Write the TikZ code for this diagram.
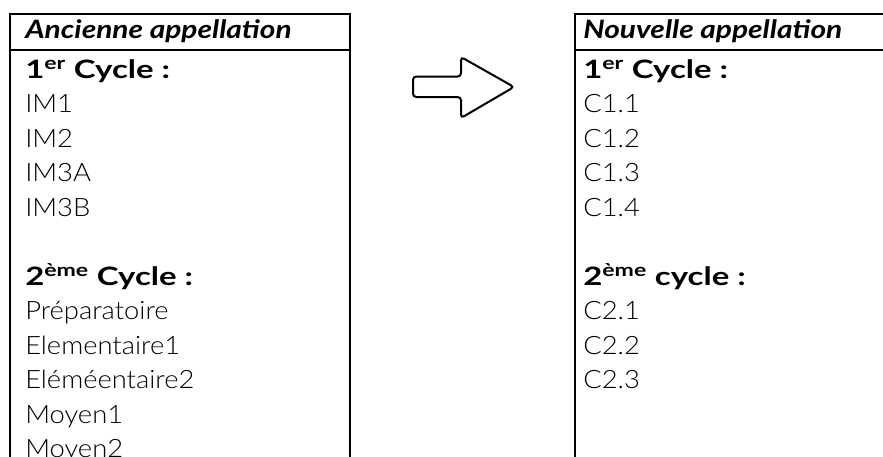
\documentclass[tikz,border=0pt]{standalone}
\usepackage{fontspec}
\setmainfont{Lato Light}
\newfontfamily\bodyfont{Lato Light}[FakeStretch=1.08]
\newfontfamily\headfont{Lato Bold Italic}[FakeStretch=1.18]
\newfontfamily\cyclefont{Lato Bold}[FakeStretch=1.3]
\usetikzlibrary{positioning}

\begin{document}
\begin{tikzpicture}[x=0.75pt,y=-0.75pt,node distance=25.875pt,on grid,
		entry/.style={inner sep=0pt,anchor=base west,font=\bodyfont\fontsize{19}{22}\selectfont},
		heading/.style={entry,font=\headfont\fontsize{19}{22}\selectfont},
		cyclehead/.style={entry,font=\cyclefont\fontsize{19}{22}\selectfont},
		under/.style={below=of #1.base west,anchor=base west},
		frame/.style={line width=1.5pt}]
		\useasboundingbox (0,0) rectangle (883,457);
		
		% old names
		\draw[frame] (10,470) -- (10,14) -- (350,14) -- (350,470);
		\draw[frame] (10,50) -- (350,50);
		\node[heading]   (oldhead) at (25,38)       {Ancienne appellation};
		\node[cyclehead] (oldc1)   at (25,78)       {1\textsuperscript{er} Cycle :};
		\node[entry]     (im1)     [under=oldc1]    {IM1};
		\node[entry]     (im2)     [under=im1]      {IM2};
		\node[entry]     (im3a)    [under=im2]      {IM3A};
		\node[entry]     (im3b)    [under=im3a]     {IM3B};
		\node[cyclehead] (oldc2)   [below=51.75pt of im3b.base west,anchor=base west] {2\textsuperscript{ème} Cycle :};
		\node[entry]     (prep)    [under=oldc2]    {Préparatoire};
		\node[entry]     (elem1)   [under=prep]     {Elementaire1};
		\node[entry]     (elem2)   [under=elem1]    {Eléméentaire2};
		\node[entry]     (moy1)    [under=elem2]    {Moyen1};
		\node[entry]     (moy2)    [under=moy1]     {Moyen2};
		
		% arrow
		\draw[frame,rounded corners=2.5pt] (413,76.5) -- (461,76.5) -- (461,57) -- (514,87)
		-- (461,118) -- (461,97) -- (413,97) -- cycle;
		
		% new names
		\draw[frame] (575,470) -- (575,14) -- (890,14);
		\draw[frame] (575,50) -- (890,50);
		\node[heading]   (newhead) at (583,38)      {Nouvelle appellation};
		\node[cyclehead] (newc1)   at (583,78)      {1\textsuperscript{er} Cycle :};
		\node[entry]     (c11)     [under=newc1]    {C1.1};
		\node[entry]     (c12)     [under=c11]      {C1.2};
		\node[entry]     (c13)     [under=c12]      {C1.3};
		\node[entry]     (c14)     [under=c13]      {C1.4};
		\node[cyclehead] (newc2)   [below=51.75pt of c14.base west,anchor=base west] {2\textsuperscript{ème} cycle :};
		\node[entry]     (c21)     [under=newc2]    {C2.1};
		\node[entry]     (c22)     [under=c21]      {C2.2};
		\node[entry]     (c23)     [under=c22]      {C2.3};
	\end{tikzpicture}
\end{document}
